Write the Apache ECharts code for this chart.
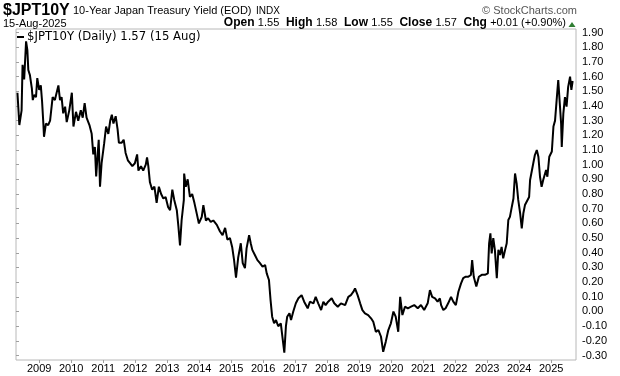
<!DOCTYPE html>
<html><head><meta charset="utf-8">
<script src="https://cdn.jsdelivr.net/npm/echarts@6/dist/echarts.min.js"></script>
<style>html,body{margin:0;padding:0;background:#fff}#c{width:620px;height:376px}</style>
</head><body><div id="c"></div>
<script>
// decimal-year dates
const dates = [
2008.32,2008.38,2008.45,2008.48,2008.53,2008.59,2008.63,2008.66,2008.71,2008.77,2008.80,2008.84,2008.90,2008.94,
2009.00,2009.05,2009.09,2009.13,2009.15,2009.21,2009.28,2009.34,2009.42,2009.49,2009.60,2009.65,2009.70,2009.75,2009.81,2009.86,2009.94,
2010.02,2010.07,2010.15,2010.22,2010.30,2010.36,2010.42,2010.48,2010.57,2010.64,2010.69,2010.74,2010.78,2010.82,2010.86,2010.90,2010.95,
2011.03,2011.09,2011.16,2011.22,2011.27,2011.32,2011.39,2011.45,2011.49,2011.58,2011.64,2011.70,2011.77,2011.84,2011.91,2011.99,
2012.06,2012.10,2012.18,2012.25,2012.33,2012.37,2012.41,2012.46,2012.53,2012.60,2012.67,2012.74,2012.81,2012.88,2012.95,
2013.03,2013.09,2013.16,2013.22,2013.30,2013.35,2013.40,2013.45,2013.52,2013.53,2013.58,2013.64,2013.71,2013.78,2013.85,2013.92,2013.99,
2014.08,2014.13,2014.21,2014.28,2014.36,2014.44,2014.55,2014.65,2014.73,2014.81,2014.88,2014.96,
2015.03,2015.09,2015.15,2015.22,2015.30,2015.36,2015.43,2015.48,2015.56,2015.61,2015.66,2015.74,2015.82,2015.90,2015.98,
2016.06,2016.11,2016.18,2016.23,2016.28,2016.34,2016.40,2016.47,2016.55,2016.61,2016.66,2016.71,2016.75,2016.82,2016.87,2016.94,
2017.02,2017.10,2017.20,2017.28,2017.39,2017.46,2017.57,2017.64,2017.72,2017.81,2017.88,2017.95,
2018.03,2018.14,2018.22,2018.33,2018.43,2018.56,2018.66,2018.74,2018.82,2018.87,2018.95,
2019.03,2019.10,2019.18,2019.28,2019.37,2019.44,2019.52,2019.60,2019.68,2019.75,2019.83,2019.91,2019.99,
2020.07,2020.14,2020.22,2020.28,2020.35,2020.43,2020.52,2020.62,2020.72,2020.83,2020.93,
2021.03,2021.14,2021.21,2021.28,2021.37,2021.45,2021.52,2021.56,2021.63,2021.70,2021.78,2021.87,2021.94,
2022.02,2022.10,2022.18,2022.25,2022.33,2022.41,2022.49,2022.53,2022.58,2022.66,2022.74,2022.83,2022.93,
2023.02,2023.06,2023.10,2023.14,2023.19,2023.24,2023.30,2023.35,2023.40,2023.45,2023.50,2023.56,2023.61,2023.66,2023.71,2023.77,2023.82,2023.87,2023.92,2023.97,
2024.03,2024.08,2024.13,2024.18,2024.24,2024.31,2024.34,2024.44,2024.49,2024.55,2024.60,2024.65,2024.70,2024.75,2024.84,2024.88,2024.94,
2025.02,2025.07,2025.12,2025.17,2025.22,2025.28,2025.31,2025.33,2025.38,2025.43,2025.48,2025.53,2025.59,2025.63,2025.67
];
// 10-year JGB yield (%)
const yields = [
1.49,1.27,1.37,1.68,1.58,1.84,1.78,1.645,1.61,1.52,1.44,1.475,1.46,1.59,
1.51,1.54,1.43,1.28,1.19,1.28,1.27,1.30,1.46,1.44,1.54,1.44,1.46,1.35,1.395,1.29,1.37,
1.49,1.26,1.36,1.30,1.37,1.32,1.42,1.32,1.27,1.21,1.07,1.12,0.92,1.05,1.17,0.85,1.01,
1.145,1.26,1.21,1.30,1.34,1.28,1.33,1.24,1.15,1.15,1.17,1.08,1.03,1.01,0.99,1.01,
1.07,0.96,0.99,0.96,1.00,1.05,0.99,0.88,0.83,0.85,0.74,0.85,0.80,0.77,0.78,
0.71,0.69,0.83,0.76,0.69,0.58,0.45,0.62,0.76,0.94,0.85,0.90,0.78,0.80,0.74,0.67,0.60,
0.645,0.725,0.62,0.635,0.61,0.62,0.59,0.545,0.52,0.57,0.49,0.50,
0.44,0.35,0.23,0.37,0.465,0.33,0.295,0.43,0.52,0.465,0.42,0.385,0.35,0.33,0.305,
0.317,0.26,0.215,0.078,-0.035,-0.08,-0.058,-0.10,-0.08,-0.19,-0.28,-0.10,-0.035,-0.012,-0.058,0.0,
0.056,0.09,0.112,0.067,0.022,0.067,0.056,0.10,0.056,0.01,0.067,0.044,
0.067,0.09,0.056,0.033,0.056,0.044,0.10,0.112,0.135,0.158,0.112,
0.056,0.01,-0.012,-0.024,-0.046,-0.07,-0.138,-0.126,-0.17,-0.274,-0.205,-0.126,-0.08,
0.0,-0.035,-0.138,0.10,-0.024,0.033,0.022,0.033,0.044,0.022,0.044,
0.01,0.056,0.146,0.10,0.09,0.067,0.09,0.044,0.01,0.022,0.056,0.10,0.067,
0.044,0.135,0.19,0.227,0.237,0.237,0.25,0.35,0.237,0.17,0.237,0.25,0.25,
0.26,0.465,0.533,0.396,0.50,0.42,0.227,0.42,0.385,0.44,0.362,0.42,0.465,0.623,0.645,0.714,0.77,0.94,0.873,0.76,
0.669,0.567,0.669,0.725,0.714,0.78,0.896,1.01,1.066,1.10,1.054,0.918,0.85,0.896,0.964,0.918,1.054,
1.09,1.26,1.30,1.44,1.577,1.59,1.28,1.12,1.35,1.46,1.395,1.53,1.60,1.51,1.57
];
// tick labels
const yearTicks = [2009,2010,2011,2012,2013,2014,2015,2016,2017,2018,2019,2020,2021,2022,2023,2024,2025];
const yTicks = ['-0.30','-0.20','-0.10','0.00','0.10','0.20','0.30','0.40','0.50','0.60','0.70','0.80','0.90','1.00','1.10','1.20','1.30','1.40','1.50','1.60','1.70','1.80','1.90'];

const FONT = 'Arial, "Liberation Sans", sans-serif';
const chart = echarts.init(document.getElementById('c'), null, {renderer:'canvas', width:620, height:376});
const data = dates.map((d,i)=>[d, yields[i]]);
const yMin = parseFloat(yTicks[0]), yMax = parseFloat(yTicks[yTicks.length-1]);

const option = {
  animation:false,
  backgroundColor:'#fff',
  grid:[
    {left:16, right:44, top:29, bottom:16, show:true, borderColor:'#b8b8b8', borderWidth:1, backgroundColor:'transparent'},
    {left:16, right:44, top:32.6, bottom:20.5, show:false},
    {left:39.2, right:68.8, top:29, bottom:16, show:false}
  ],
  xAxis:[
    {gridIndex:0, type:'value', min:2008.275, max:2025.775, show:false},
    {gridIndex:1, type:'value', min:0, max:1, show:false},
    {gridIndex:2, type:'value', min:yearTicks[0], max:yearTicks[yearTicks.length-1], interval:1,
     axisLine:{show:false}, splitLine:{show:false},
     axisTick:{show:true, length:3, lineStyle:{color:'#a0a0a0'}},
     axisLabel:{fontFamily:FONT, fontSize:11, color:'#000', margin:3,
       formatter:(v)=>{const y=Math.round(v); return yearTicks.indexOf(y)>=0?String(y):'';}}}
  ],
  yAxis:[
    {gridIndex:0, type:'value', min:-0.33, max:1.924, show:false},
    {gridIndex:1, type:'value', position:'right', min:yMin, max:yMax, interval:0.1,
     axisLine:{show:false}, splitLine:{show:false},
     axisTick:{show:true, length:3, lineStyle:{color:'#a0a0a0'}},
     axisLabel:{fontFamily:FONT, fontSize:11, color:'#000', margin:6,
       formatter:(v)=>{const i=Math.round((v-yMin)*10); return yTicks[i]||'';}}},
    {gridIndex:2, type:'value', min:0, max:1, show:false}
  ],
  series:[{type:'line', xAxisIndex:0, yAxisIndex:0, data:data, symbol:'none', showSymbol:false,
    lineStyle:{color:'#000', width:2}, silent:true}],
  graphic:[
    {type:'text', left:3, top:3, style:{text:'$JPT10Y', font:'bold 16px '+FONT, fill:'#000'}},
    {type:'text', left:73, top:5, style:{text:'10-Year Japan Treasury Yield (EOD)', font:'11px '+FONT, fill:'#000'}},
    {type:'text', left:256, top:6, style:{text:'INDX', font:'10px '+FONT, fill:'#000'}},
    {type:'text', right:43, top:5, style:{text:'\u00A9 StockCharts.com', font:'11px '+FONT, fill:'#555'}},
    {type:'text', left:3, top:18, style:{text:'15-Aug-2025', font:'11px '+FONT, fill:'#000'}},
    {type:'text', right:54, top:17, style:{
      text:'{b|Open} {v|1.55}  {b|High} {v|1.58}  {b|Low} {v|1.55}  {b|Close} {v|1.57}  {b|Chg} {v|+0.01 (+0.90%)}',
      rich:{b:{font:'bold 12px '+FONT, fill:'#000'}, v:{font:'11px '+FONT, fill:'#000'}}}},
    {type:'polygon', shape:{points:[[568.5,27],[575.5,27],[572,22]]}, style:{fill:'#2e7d32'}},
    {type:'rect', shape:{x:17, y:36, width:7, height:2}, style:{fill:'#000'}},
    {type:'text', left:27, top:31, style:{text:'$JPT10Y (Daily) 1.57 (15 Aug)', font:'11.7px "DejaVu Sans", Verdana, sans-serif', fill:'#000'}}
  ]
};
chart.setOption(option);
</script>
</body></html>
